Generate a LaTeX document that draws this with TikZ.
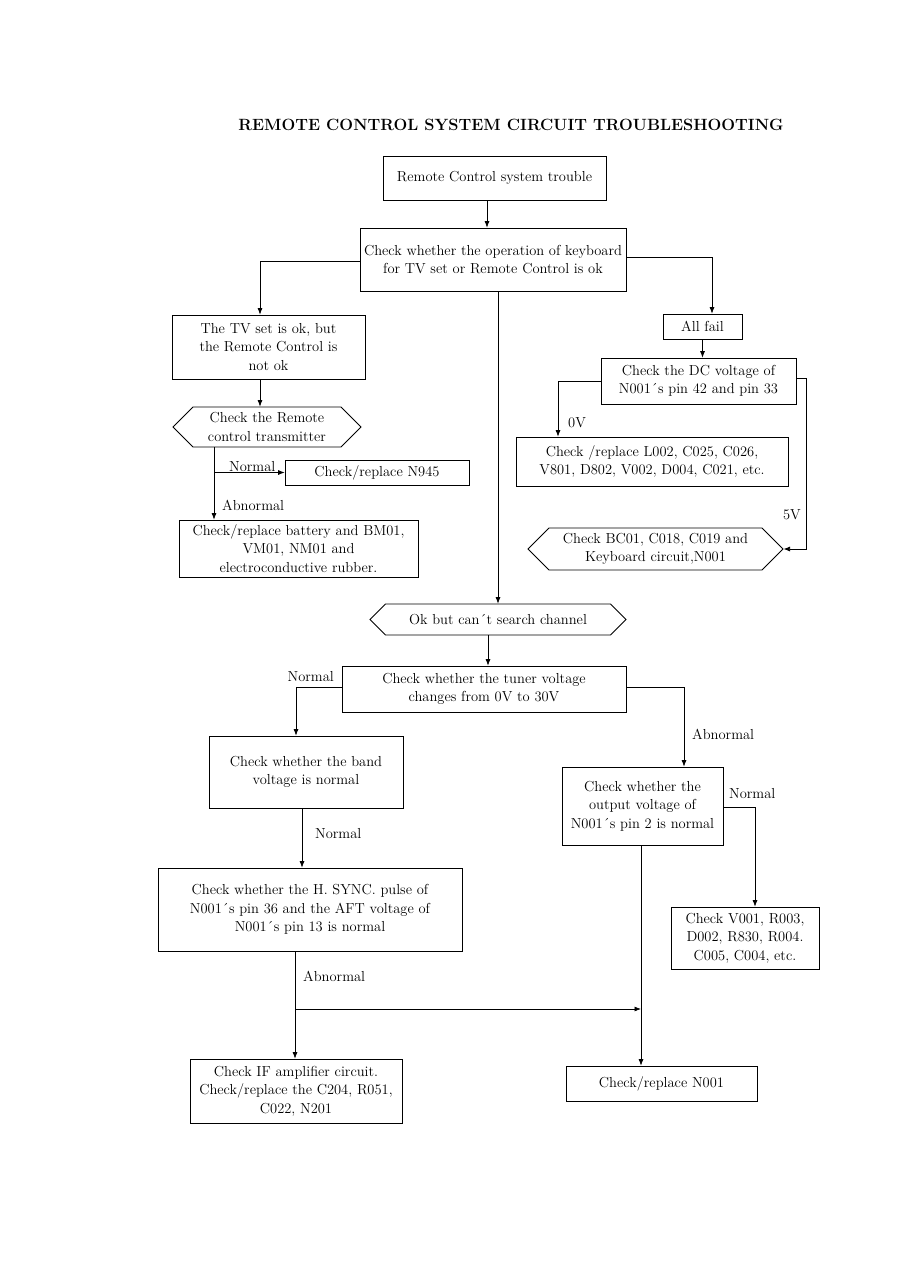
\documentclass[tikz,border=0pt]{standalone}
\usetikzlibrary{shapes.symbols,arrows.meta}
\newcommand\myfs{\fontsize{14.5}{18.3}\selectfont}
\begin{document}
\begin{tikzpicture}[x=1pt,y=-1pt,
  box/.style={draw, line width=0.8pt, inner sep=0pt, align=center, font=\myfs},
  hex/.style={draw, line width=0.8pt, signal, signal to=west and east, signal pointer angle=90, inner sep=0pt, align=center, font=\myfs},
  arr/.style={-{Latex[length=6.5pt,width=5pt]}, line width=0.7pt},
  lbl/.style={font=\myfs, inner sep=0pt}]
\useasboundingbox[fill=white] (0,0) rectangle (899,1263);

\node[font=\bfseries\fontsize{16.3}{19}\selectfont] (title) at (511,125) {REMOTE CONTROL SYSTEM CIRCUIT TROUBLESHOOTING};

\node[box, minimum width=223pt, minimum height=44pt] (b1) at (494.5,178) {Remote Control system trouble};
\node[box, minimum width=266pt, minimum height=63pt] (b2) at (493,259.5) {Check whether the operation of keyboard\\for TV set or Remote Control is ok};
\node[box, minimum width=193pt, minimum height=64pt] (b3) at (268.5,347) {The TV set is ok, but\\the Remote Control is\\not ok};
\node[hex, minimum width=188pt, minimum height=40pt] (h1) at (267,427) {Check the Remote\\control transmitter};
\node[box, minimum width=184pt, minimum height=25pt] (n945) at (377,472.5) {Check/replace N945};
\node[box, minimum width=239pt, minimum height=57pt] (batt) at (298.5,548.5) {Check/replace battery and BM01,\\VM01, NM01 and\\electroconductive rubber.};
\node[box, minimum width=79pt, minimum height=25pt] (allfail) at (702.5,326.5) {All fail};
\node[box, minimum width=195pt, minimum height=46pt] (dc) at (698.5,381) {Check the DC voltage of\\N001´s pin 42 and pin 33};
\node[box, minimum width=272pt, minimum height=49pt] (l002) at (652,461.5) {Check /replace L002, C025, C026,\\V801, D802, V002, D004, C021, etc.};
\node[hex, minimum width=255pt, minimum height=42pt] (bc01) at (655.5,549) {Check BC01, C018, C019 and\\Keyboard circuit,N001};
\node[hex, minimum width=256pt, minimum height=31pt] (ok) at (498,619.5) {Ok but can´t search channel};
\node[box, minimum width=284pt, minimum height=46pt] (tuner) at (484,689) {Check whether the tuner voltage\\changes from 0V to 30V};
\node[box, minimum width=194pt, minimum height=72pt] (band) at (306,772) {Check whether the band\\voltage is normal};
\node[box, minimum width=304pt, minimum height=83pt] (hsync) at (310,909.5) {Check whether the H. SYNC. pulse of\\N001´s pin 36 and the AFT voltage of\\N001´s pin 13 is normal};
\node[box, minimum width=161pt, minimum height=78pt] (outv) at (642.5,806) {Check whether the\\output voltage of\\N001´s pin 2 is normal};
\node[box, minimum width=148pt, minimum height=62pt] (v001) at (745,938) {Check V001, R003,\\D002, R830, R004.\\C005, C004, etc.};
\node[box, minimum width=212pt, minimum height=64pt] (ifamp) at (296,1091) {Check IF amplifier circuit.\\Check/replace the C204, R051,\\C022, N201};
\node[box, minimum width=191pt, minimum height=35pt] (n001) at (661.5,1083.5) {Check/replace N001};

% connectors
\draw[arr] ([xshift=-7.5pt]b1.south) -- ([xshift=-7.5pt]b1.south |- b2.north);
\draw[arr] ([yshift=-1.5pt]b2.west) -| ([xshift=-8.5pt]b3.north);
\draw[arr] ([yshift=2.5pt]b2.east) -| ([xshift=9.5pt]allfail.north);
\draw[arr] ([xshift=5pt]b2.south) -- ([xshift=5pt]b2.south |- ok.north);
\draw[arr] ([xshift=-8.5pt]b3.south) -- ([xshift=-8.5pt]b3.south |- h1.north);

\coordinate (h1x) at ([xshift=-53pt]h1.south);
\draw[arr] (h1x) -- (h1x |- batt.north);
\draw[arr] (h1x |- n945.west) -- node[lbl, above=1pt, xshift=3pt] (lnorm1) {Normal} (n945.west);
\node[lbl, anchor=west] (labn1) at (222,505) {Abnormal};

\draw[arr] (allfail.south) -- (allfail.south |- dc.north);
\draw[arr] (dc.west) -| ([xshift=-94pt]l002.north);
\node[lbl, anchor=west] (l0v) at (568,423) {0V};
\draw[arr] ([yshift=3pt]dc.east) -- ++(10,0) |- (bc01.east);
\node[lbl, anchor=east] (l5v) at (801,515) {5V};

\draw[arr] ([xshift=-10pt]ok.south) -- ([xshift=-10pt]ok.south |- tuner.north);
\draw[arr] ([yshift=2pt]tuner.west) -| ([xshift=-10pt]band.north);
\node[lbl, anchor=east] (lnorm2) at (334,677) {Normal};
\draw[arr] ([yshift=2pt]tuner.east) -| ([xshift=41.5pt]outv.north);
\node[lbl, anchor=west] (labn2) at (692,734) {Abnormal};
\draw[arr] ([xshift=-4pt]band.south) -- ([xshift=-4pt]band.south |- hsync.north);
\node[lbl, anchor=west] (lnorm3) at (315,834) {Normal};

\coordinate (hx) at ([xshift=-15pt]hsync.south);
\draw[arr] (hx) -- (hx |- ifamp.north);
\node[lbl, anchor=west] (labn3) at (303,976) {Abnormal};
\coordinate (ox) at ([xshift=-1.5pt]outv.south);
\coordinate (joinpt) at (ox |- 0,1009);
\draw[arr] (hx |- joinpt) -- (joinpt);
\draw[arr] (ox) -- (ox |- n001.north);
\draw[arr] ([yshift=-1pt]outv.east) -| ([xshift=10pt]v001.north);
\node[lbl, anchor=west] (lnorm4) at (729,794) {Normal};
\end{tikzpicture}
\end{document}
